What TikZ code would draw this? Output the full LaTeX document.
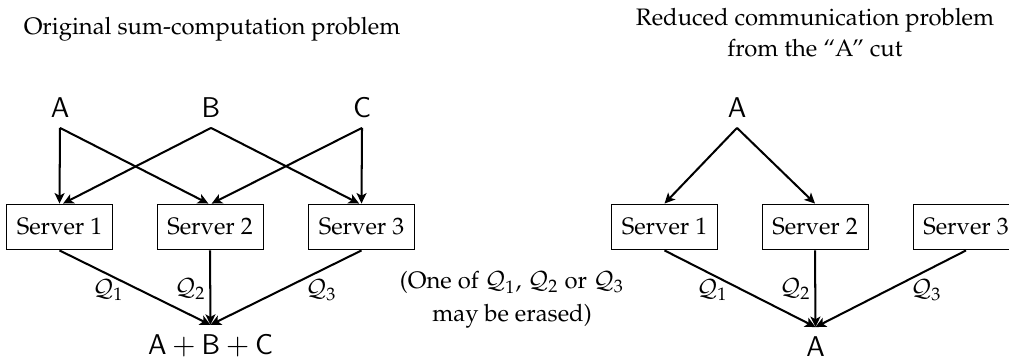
\documentclass[tikz,border=0pt]{standalone}
\usepackage[T1]{fontenc}
\usepackage{mathpazo}
\usetikzlibrary{arrows.meta}
\begin{document}
\begin{tikzpicture}[x=0.42pt,y=-0.42pt,
  server/.style={draw, line width=0.4pt, minimum width=44.5pt, minimum height=19.3pt, inner sep=0pt},
  src/.style={inner sep=4pt, font=\large},
  flow/.style={line width=0.85pt, -{Stealth[length=4.4pt,width=4.2pt,inset=1.1pt]}},
  qlab/.style={inner sep=0pt},
  title/.style={align=center, inner sep=0pt}]
\useasboundingbox (0,0) rectangle (1009,360);
\clip (0,0) rectangle (1009,360);
% titles
\node[title, anchor=base] (t1) at (212,35) {Original sum-computation problem};
\node[title] (t2) at (815,33) {Reduced communication problem\\[1pt]from the ``A'' cut};
% left panel
\node[src] (A) at (60,108) {$\mathsf{A}$};
\node[src] (B) at (211,108) {$\mathsf{B}$};
\node[src] (C) at (362,108) {$\mathsf{C}$};
\node[server] (S1) at (59.5,227) {Server 1};
\node[server] (S2) at (210,227) {Server 2};
\node[server] (S3) at (361.5,227) {Server 3};
\node[src] (sum) at (210.5,346) {$\mathsf{A}+\mathsf{B}+\mathsf{C}$};
\draw[flow] (A.south) -- (S1.north);
\draw[flow] (A.south) -- ([xshift=-0.7pt]S2.north);
\draw[flow] (B.south) -- ([xshift=1.5pt]S1.north);
\draw[flow] (B.south) -- ([xshift=-1pt]S3.north);
\draw[flow] (C.south) -- ([xshift=0.7pt]S2.north);
\draw[flow] (C.south) -- (S3.north);
\draw[flow] (S1.south) -- (sum.north);
\draw[flow] (S2.south) -- (sum.north);
\draw[flow] (S3.south) -- (sum.north);
\node[qlab] (q1) at (108,290) {$\mathcal{Q}_1$};
\node[qlab] (q2) at (190,289) {$\mathcal{Q}_2$};
\node[qlab] (q3) at (321,290) {$\mathcal{Q}_3$};
% middle note
\node[title] (note) at (512,300) {(One of $\mathcal{Q}_1$, $\mathcal{Q}_2$ or $\mathcal{Q}_3$\\[2pt] may be erased)};
% right panel
\node[src] (Ar) at (737,108) {$\mathsf{A}$};
\node[server] (R1) at (664.5,227) {Server 1};
\node[server] (R2) at (815,227) {Server 2};
\node[server] (R3) at (966,227) {Server 3};
\node[src] (Ab) at (815.5,347) {$\mathsf{A}$};
\draw[flow] (Ar.south) -- (R1.north);
\draw[flow] (Ar.south) -- (R2.north);
\draw[flow] (R1.south) -- (Ab.north);
\draw[flow] (R2.south) -- (Ab.north);
\draw[flow] (R3.south) -- (Ab.north);
\node[qlab] (r1) at (712,290) {$\mathcal{Q}_1$};
\node[qlab] (r2) at (795,289) {$\mathcal{Q}_2$};
\node[qlab] (r3) at (926,290) {$\mathcal{Q}_3$};
\end{tikzpicture}
\end{document}
